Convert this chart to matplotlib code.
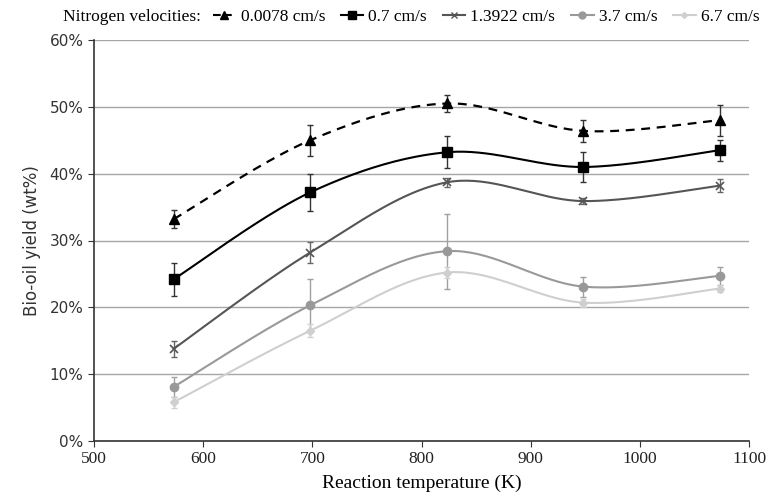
import numpy as np
import matplotlib
matplotlib.use("Agg")
import matplotlib.pyplot as plt
from matplotlib.ticker import PercentFormatter

# data
temps = [573, 698, 823, 948, 1073]
labels = ["0.0078 cm/s", "0.7 cm/s", "1.3922 cm/s", "3.7 cm/s", "6.7 cm/s"]
yield_0078 = [33.2, 45.0, 50.5, 46.4, 48.0]
yield_07 = [24.2, 37.2, 43.2, 41.0, 43.5]
yield_13922 = [13.8, 28.2, 38.7, 35.9, 38.2]
yield_37 = [8.1, 20.3, 28.4, 23.1, 24.7]
yield_67 = [5.8, 16.5, 25.2, 20.7, 22.8]
err_0078 = [1.4, 2.3, 1.3, 1.6, 2.3]
err_07 = [2.5, 2.8, 2.4, 2.2, 1.6]
err_13922 = [1.2, 1.6, 0.7, 0.5, 1.0]
err_37 = [1.5, 4.0, 5.6, 1.5, 1.4]
err_67 = [0.8, 1.0, 0.8, 0.6, 0.5]

series = [yield_0078, yield_07, yield_13922, yield_37, yield_67]
errors = [err_0078, err_07, err_13922, err_37, err_67]
colors = ["#000000", "#000000", "#555555", "#999999", "#cfcfcf"]
ecolors = ["#333333", "#333333", "#666666", "#a0a0a0", "#d0d0d0"]
markers = ["^", "s", "x", "o", "D"]
msizes = [7, 7, 6, 6, 4]
lstyles = ["--", "-", "-", "-", "-"]

XR = (500, 1100)
YR = (0, 60)


def smooth(x, y, n=40):
    """Catmull-Rom curve through the points, like Excel smoothed lines."""
    x = np.asarray(x, float)
    y = np.asarray(y, float)
    # work in normalised units so both axes weigh the same
    sx = (x - XR[0]) / (XR[1] - XR[0]) * 1.6
    sy = (y - YR[0]) / (YR[1] - YR[0])
    px = np.concatenate([[sx[0]], sx, [sx[-1]]])
    py = np.concatenate([[sy[0]], sy, [sy[-1]]])
    ox, oy = [], []
    t = np.linspace(0, 1, n)
    for i in range(1, len(px) - 2):
        p0, p1, p2, p3 = [np.array([px[j], py[j]]) for j in (i - 1, i, i + 1, i + 2)]
        c1 = p1 + (p2 - p0) / 6
        c2 = p2 - (p3 - p1) / 6
        b = ((1 - t) ** 3)[:, None] * p1 + (3 * (1 - t) ** 2 * t)[:, None] * c1 \
            + (3 * (1 - t) * t ** 2)[:, None] * c2 + (t ** 3)[:, None] * p2
        ox.extend(b[:, 0])
        oy.extend(b[:, 1])
    ox = np.array(ox) / 1.6 * (XR[1] - XR[0]) + XR[0]
    oy = np.array(oy) * (YR[1] - YR[0]) + YR[0]
    return ox, oy


fig = plt.figure(figsize=(7.68, 5.0), dpi=100)
ax = fig.add_axes([0.1224, 0.118, 0.853, 0.802])

handles = []
for y, e, c, ec, m, ms, ls, lab in zip(series, errors, colors, ecolors, markers,
                                       msizes, lstyles, labels):
    ax.errorbar(temps, y, yerr=e, fmt="none", ecolor=ec, elinewidth=1.0,
                capsize=2.5, capthick=1.0, zorder=3)
    sx, sy = smooth(temps, y)
    ax.plot(sx, sy, color=c, lw=1.6 if ls == "--" else 1.5, ls=ls,
            dashes=(4, 3) if ls == "--" else (None, None), zorder=2)
    ax.plot(temps, y, ls="none", marker=m, ms=ms, color=c, mec=c,
            mew=1.2 if m == "x" else 1.0, zorder=4)
    h, = ax.plot([], [], ls=ls, marker=m, ms=ms - 1, color=c, lw=1.5)
    handles.append(h)

ax.set_xlim(*XR)
ax.set_ylim(*YR)
ax.set_xticks(np.arange(500, 1101, 100))
ax.set_yticks(np.arange(0, 61, 10))
ax.yaxis.set_major_formatter(PercentFormatter(decimals=0))
ax.grid(axis="y", color="#a6a6a6", lw=1.0)
ax.set_axisbelow(True)
for s in ["top", "right"]:
    ax.spines[s].set_visible(False)
for s in ["left", "bottom"]:
    ax.spines[s].set_color("#333333")
    ax.spines[s].set_linewidth(1.2)
ax.tick_params(axis="both", direction="out", length=4, color="#333333")
ax.tick_params(axis="y", labelsize=11, labelcolor="#333333")
ax.tick_params(axis="x", labelsize=11, labelcolor="#222222")
for lbl in ax.get_xticklabels():
    lbl.set_fontfamily("Liberation Serif")
    lbl.set_fontsize(12.5)

ax.set_xlabel("Reaction temperature (K)", fontfamily="Liberation Serif",
              fontsize=14, labelpad=5)
ax.set_ylabel("Bio-oil yield (wt%)", fontsize=12, color="#333333", labelpad=6)

fig.text(0.082, 0.966, "Nitrogen velocities:", fontfamily="Liberation Serif",
         fontsize=12.5, va="center", ha="left")
fig.legend(handles, labels, loc="center left", bbox_to_anchor=(0.277, 0.966),
           ncol=5, frameon=False, handlelength=1.3, handletextpad=0.3,
           columnspacing=0.9, prop={"family": "Liberation Serif", "size": 12.5},
           borderaxespad=0, borderpad=0)

fig.savefig("out.png", dpi=100)
